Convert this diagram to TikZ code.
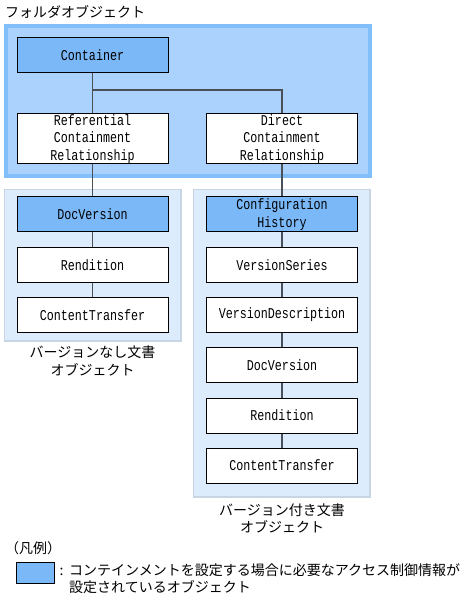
\documentclass[tikz,border=0pt]{standalone}
\usepackage{fontspec}
\newfontfamily\lat[FakeStretch=0.78]{Liberation Mono}
\newfontfamily\jp{Noto Sans CJK JP}
\definecolor{dkblue}{HTML}{7AB8F8}
\definecolor{folderfill}{HTML}{AAD2FC}
\definecolor{folderedge}{HTML}{82BEF8}
\definecolor{panelfill}{HTML}{DCECFC}
\definecolor{paneledge}{HTML}{C8D6E4}
\definecolor{linec}{HTML}{4A5058}
\tikzset{
  obj/.style={draw=black, line width=1pt, fill=white, minimum width=151pt, minimum height=35pt,
    inner sep=0pt, align=center, font=\lat\fontsize{15}{17.5}\selectfont},
  tall/.style={minimum height=50pt},
  keyobj/.style={fill=dkblue},
  conn/.style={draw=linec, line width=1.3pt},
  captxt/.style={align=center, font=\jp\fontsize{14}{17.5}\selectfont, inner sep=0pt},
}
\begin{document}
\begin{tikzpicture}[x=1pt,y=-1pt]
\useasboundingbox (0,0) rectangle (471,601);
% folder box
\draw[draw=folderedge, fill=folderfill, line width=4pt] (6,26) rectangle (370,176);
% panels
\draw[draw=paneledge, fill=panelfill, line width=1.2pt] (4.6,189.6) rectangle (181,341);
\draw[draw=paneledge, fill=panelfill, line width=1.2pt] (193.6,189.6) rectangle (370,497);
\node[captxt, anchor=west] (ttl) at (5,12) {フォルダオブジェクト};
% nodes
\node[obj, keyobj] (cont) at (92.5,55.5) {Container};
\node[obj, tall] (ref) at (92.5,139) {Referential\\Containment\\Relationship};
\node[obj, tall] (dir) at (282,139) {Direct\\Containment\\Relationship};
\node[obj, keyobj] (ldoc) at (92.5,214.5) {DocVersion};
\node[obj] (lren) at (92.5,265) {Rendition};
\node[obj] (lct) at (92.5,315) {ContentTransfer};
\node[obj, keyobj] (ch) at (282,214.5) {Configuration\\History};
\node[obj] (vs) at (282,265) {VersionSeries};
\node[obj] (vd) at (282,315) {VersionDescription};
\node[obj] (rdoc) at (282,365) {DocVersion};
\node[obj] (rren) at (282,415.5) {Rendition};
\node[obj] (rct) at (282,465.5) {ContentTransfer};
% connectors
\coordinate (j1) at (92.5,90);
\coordinate (j2) at (282,90);
\draw[conn] (cont.south) -- (ref.north);
\draw[conn] (j1) -- (j2) -- (dir.north);
\draw[conn] (ref.south) -- (ldoc.north);
\draw[conn] (ldoc.south) -- (lren.north);
\draw[conn] (lren.south) -- (lct.north);
\draw[conn] (dir.south) -- (ch.north);
\draw[conn] (ch.south) -- (vs.north);
\draw[conn] (vs.south) -- (vd.north);
\draw[conn] (vd.south) -- (rdoc.north);
\draw[conn] (rdoc.south) -- (rren.north);
\draw[conn] (rren.south) -- (rct.north);
% captions
\node[captxt] (lcap) at (92.5,361) {バージョンなし文書\\オブジェクト};
\node[captxt] (rcap) at (282,518.5) {バージョン付き文書\\オブジェクト};
% legend
\node[captxt, anchor=west] (leg) at (5,548) {（凡例）};
\draw[draw=black, line width=1pt, fill=dkblue] (16.5,562.5) rectangle (54,583);
\node[captxt, anchor=west] (colon) at (59.5,572) {:};
\node[captxt, anchor=north west, align=left] (legtxt) at (69,563) {コンテインメントを設定する場合に必要なアクセス制御情報が\\設定されているオブジェクト};
\end{tikzpicture}
\end{document}
